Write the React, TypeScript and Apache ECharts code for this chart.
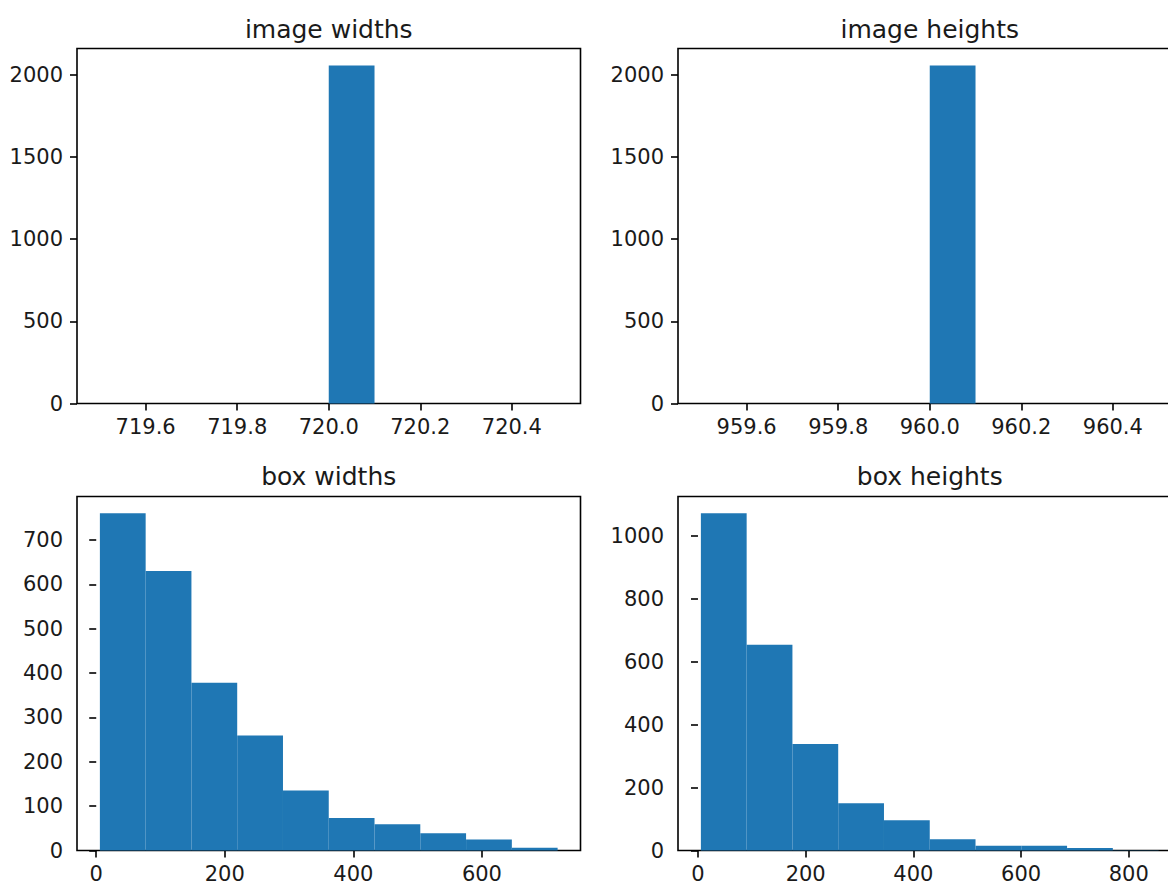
import React, { useEffect, useRef } from "react";
import * as echarts from "echarts";

// ---------- data ----------
const imageWidthEdges = [719.5, 719.6, 719.7, 719.8, 719.9, 720.0, 720.1, 720.2, 720.3, 720.4, 720.5];
const imageWidthCounts = [0, 0, 0, 0, 0, 2058, 0, 0, 0, 0];

const imageHeightEdges = [959.5, 959.6, 959.7, 959.8, 959.9, 960.0, 960.1, 960.2, 960.3, 960.4, 960.5];
const imageHeightCounts = [0, 0, 0, 0, 0, 2058, 0, 0, 0, 0];

const boxWidthEdges = [5.7, 76.9, 148.1, 219.3, 290.5, 361.7, 432.9, 504.1, 575.3, 646.5, 717.7];
const boxWidthCounts = [760, 630, 378, 259, 135, 73, 59, 39, 25, 6];

const boxHeightEdges = [5.4, 90.4, 175.4, 260.4, 345.4, 430.4, 515.4, 600.4, 685.4, 770.4, 855.4];
const boxHeightCounts = [1071, 654, 338, 150, 96, 36, 15, 15, 8, 1];

const titles = ["image widths", "image heights", "box widths", "box heights"];

const imageWidthTicks = [719.6, 719.8, 720.0, 720.2, 720.4];
const imageHeightTicks = [959.6, 959.8, 960.0, 960.2, 960.4];
const imageCountTicks = [0, 500, 1000, 1500, 2000];
const boxWidthTicks = [0, 200, 400, 600];
const boxWidthCountTicks = [0, 100, 200, 300, 400, 500, 600, 700];
const boxHeightTicks = [0, 200, 400, 600, 800];
const boxHeightCountTicks = [0, 200, 400, 600, 800, 1000];

// ---------- helpers ----------
const FONT = "DejaVu Sans";
const TEXT = "#1a1a1a";
const BAR = "#1f77b4";

function toData(edges: number[], counts: number[]) {
  return counts.map((c, i) => [edges[i], edges[i + 1], c]);
}

function extentWithMargin(edges: number[]) {
  const lo = edges[0];
  const hi = edges[edges.length - 1];
  const m = (hi - lo) * 0.05;
  return [lo - m, hi + m];
}

function xAxis(gridIndex: number, edges: number[], ticks: number[], digits: number) {
  const [min, max] = extentWithMargin(edges);
  return {
    type: "value",
    gridIndex,
    min,
    max,
    splitLine: { show: false },
    axisLine: { show: false },
    axisTick: {
      show: true,
      inside: false,
      length: 7,
      customValues: ticks,
      lineStyle: { color: "#000", width: 1.6 },
    },
    axisLabel: {
      customValues: ticks,
      margin: 13,
      color: TEXT,
      fontFamily: FONT,
      fontSize: 21,
      formatter: (v: number) => v.toFixed(digits),
    },
  };
}

function yAxis(gridIndex: number, counts: number[], ticks: number[]) {
  const max = Math.max(...counts) * 1.05;
  return {
    type: "value",
    gridIndex,
    min: 0,
    max,
    splitLine: { show: false },
    axisLine: { show: false },
    axisTick: {
      show: true,
      inside: false,
      length: 7,
      customValues: ticks,
      lineStyle: { color: "#000", width: 1.6 },
    },
    axisLabel: {
      customValues: ticks,
      margin: 14,
      color: TEXT,
      fontFamily: FONT,
      fontSize: 21,
      formatter: (v: number) => String(v),
    },
  };
}

function histSeries(index: number, edges: number[], counts: number[]) {
  return {
    type: "custom",
    xAxisIndex: index,
    yAxisIndex: index,
    encode: { x: [0, 1], y: 2 },
    data: toData(edges, counts),
    renderItem: (_params: any, api: any) => {
      const x0 = api.value(0);
      const x1 = api.value(1);
      const c = api.value(2);
      const p0 = api.coord([x0, 0]);
      const p1 = api.coord([x1, c]);
      return {
        type: "rect",
        shape: { x: p0[0], y: p1[1], width: p1[0] - p0[0], height: p0[1] - p1[1] },
        style: { fill: BAR },
      };
    },
  };
}

export default function App() {
  const ref = useRef<HTMLDivElement | null>(null);

  useEffect(() => {
    if (!ref.current) return;
    const chart = echarts.init(ref.current, null, { renderer: "svg" });

    const gridW = 503.5;
    const lefts = [77, 678, 77, 678];
    const tops = [48.5, 48.5, 496.5, 496.5];

    const grids = lefts.map((l, i) => ({
      left: l,
      top: tops[i],
      width: gridW,
      height: i < 2 ? 355 : 354,
      show: true,
      borderColor: "#000",
      borderWidth: 1.6,
      backgroundColor: "transparent",
    }));

    const titleY = [29, 29, 476.5, 476.5];

    chart.setOption({
      animation: false,
      backgroundColor: "#ffffff",
      grid: grids,
      xAxis: [
        xAxis(0, imageWidthEdges, imageWidthTicks, 1),
        xAxis(1, imageHeightEdges, imageHeightTicks, 1),
        xAxis(2, boxWidthEdges, boxWidthTicks, 0),
        xAxis(3, boxHeightEdges, boxHeightTicks, 0),
      ],
      yAxis: [
        yAxis(0, imageWidthCounts, imageCountTicks),
        yAxis(1, imageHeightCounts, imageCountTicks),
        yAxis(2, boxWidthCounts, boxWidthCountTicks),
        yAxis(3, boxHeightCounts, boxHeightCountTicks),
      ],
      series: [
        histSeries(0, imageWidthEdges, imageWidthCounts),
        histSeries(1, imageHeightEdges, imageHeightCounts),
        histSeries(2, boxWidthEdges, boxWidthCounts),
        histSeries(3, boxHeightEdges, boxHeightCounts),
      ],
      graphic: titles.map((t, i) => ({
        type: "text",
        x: lefts[i] + gridW / 2,
        y: titleY[i],
        style: {
          text: t,
          fill: TEXT,
          font: `25px '${FONT}'`,
          align: "center",
          verticalAlign: "middle",
        },
      })),
    });

    return () => chart.dispose();
  }, []);

  return (
    <div
      style={{
        position: "absolute",
        left: 0,
        top: 0,
        width: 1168,
        height: 885,
        overflow: "hidden",
        background: "#fff",
      }}
    >
      <div ref={ref} style={{ width: 1200, height: 885 }} />
    </div>
  );
}
